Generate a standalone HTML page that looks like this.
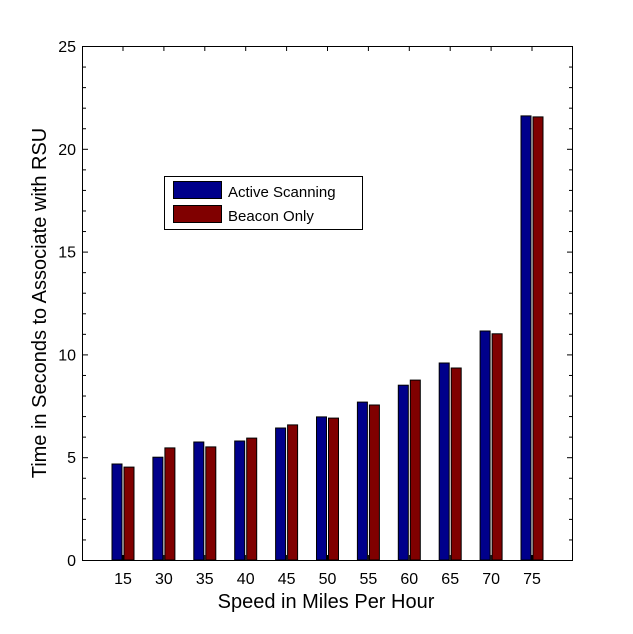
<!DOCTYPE html>
<html><head><meta charset="utf-8"><style>html,body{margin:0;padding:0;background:#fff}</style></head>
<body>
<svg width="633" height="629" xmlns="http://www.w3.org/2000/svg" font-family="Liberation Sans, Arial, sans-serif">
<rect width="633" height="629" fill="#fff"/>
<g id="bars" stroke="#000" stroke-width="1"></g>
<g id="ticks" stroke="#000" stroke-width="1"></g>
<rect x="82.5" y="46.5" width="490" height="514" fill="none" stroke="#000" stroke-width="1"/>
<g font-size="16" text-anchor="end" id="yl"></g>
<g font-size="16" text-anchor="middle" id="xl"></g>
<text x="326" y="608" font-size="20" text-anchor="middle">Speed in Miles Per Hour</text>
<text transform="translate(46,303) rotate(-90)" font-size="20" text-anchor="middle">Time in Seconds to Associate with RSU</text>
<rect x="164.5" y="176.5" width="198" height="53" fill="#fff" stroke="#000"/>
<rect x="173.5" y="181.5" width="48" height="17" fill="#00008b" stroke="#000"/>
<rect x="173.5" y="205.5" width="48" height="17" fill="#800000" stroke="#000"/>
<text x="228" y="197" font-size="15">Active Scanning</text>
<text x="228" y="221" font-size="15">Beacon Only</text>
<script>
var ns="http://www.w3.org/2000/svg";
function el(p,t,a,txt){var e=document.createElementNS(ns,t);for(var k in a)e.setAttribute(k,a[k]);if(txt)e.textContent=txt;document.getElementById(p).appendChild(e);}
var cats=[15,30,35,40,45,50,55,60,65,70,75];
var A=[4.67,5.0,5.74,5.79,6.42,6.96,7.68,8.5,9.58,11.14,21.6];
var B=[4.52,5.45,5.5,5.93,6.57,6.9,7.54,8.75,9.34,11.0,21.55];
function Y(v){return 560-v*20.56;}
for(var i=0;i<11;i++){var c=123+40.9*i;
el("bars","rect",{x:(c-11).toFixed(1),y:Y(A[i]).toFixed(1),width:10,height:(A[i]*20.56).toFixed(1),fill:"#00008b"});
el("bars","rect",{x:(c+1).toFixed(1),y:Y(B[i]).toFixed(1),width:10,height:(B[i]*20.56).toFixed(1),fill:"#800000"});
el("ticks","line",{x1:c,x2:c,y1:560,y2:555});el("ticks","line",{x1:c,x2:c,y1:46,y2:51});
el("xl","text",{x:c,y:584},String(cats[i]));}
for(var v=0;v<=25;v++){var y=Y(v)+0.5;var L=(v%5==0)?5:3;
el("ticks","line",{x1:83,x2:83+L,y1:y,y2:y});el("ticks","line",{x1:572,x2:572-L,y1:y,y2:y});
if(v%5==0)el("yl","text",{x:76,y:Y(v)+6},String(v));}
</script>
</svg>
</body></html>
